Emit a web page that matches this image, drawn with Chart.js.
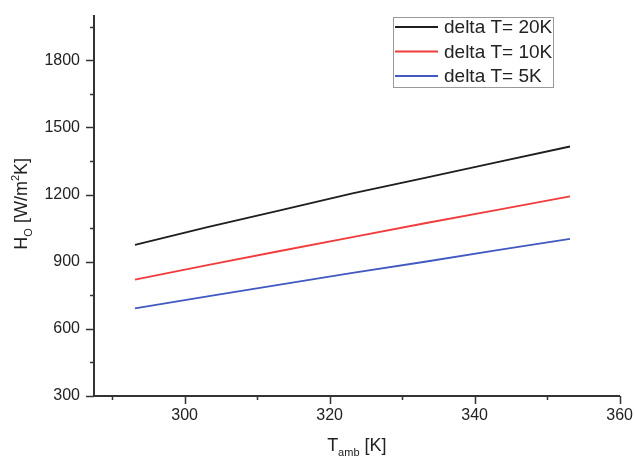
<!DOCTYPE html>
<html>
<head>
<meta charset="utf-8">
<script src="https://cdn.jsdelivr.net/npm/chart.js@4.4.1/dist/chart.umd.min.js"></script>
<style>
  html, body { margin: 0; padding: 0; background: #fff; }
</style>
</head>
<body>
<canvas id="chart" width="635" height="462"></canvas>
<script>
// values
const tempK = [293.15, 303.15, 313.15, 323.15, 333.15, 343.15, 353.15];
const hoDelta20 = [975, 1055, 1130, 1205, 1275, 1345, 1415];
const hoDelta10 = [820, 885, 948, 1010, 1072, 1132, 1192];
const hoDelta5 = [692, 745, 798, 850, 900, 952, 1002];
const seriesLabels = ["delta T= 20K", "delta T= 10K", "delta T= 5K"];

const xMajorTicks = [300, 320, 340, 360];
const xMinorTicks = [290, 310, 330, 350];
const yMajorTicks = [300, 600, 900, 1200, 1500, 1800];
const yMinorTicks = [450, 750, 1050, 1350, 1650, 1950];

const FONT = '"Liberation Sans", Arial, sans-serif';
const AXIS_COLOR = "#333";
const TEXT_COLOR = "#222";

function toPoints(ys) {
  return tempK.map((t, i) => ({ x: t, y: ys[i] }));
}

function setTicks(major, minor) {
  return (scale) => {
    scale.ticks = major.concat(minor).sort((a, b) => a - b).map((v) => ({ value: v }));
  };
}

// draws text pieces with sub/superscripts, centred on x=0 at baseline 0
function drawRich(ctx, parts) {
  let total = 0;
  parts.forEach((p) => {
    ctx.font = p.size + "px " + FONT;
    p.w = ctx.measureText(p.t).width;
    total += p.w;
  });
  let x = -total / 2;
  parts.forEach((p) => {
    ctx.font = p.size + "px " + FONT;
    ctx.fillText(p.t, x, p.dy);
    x += p.w;
  });
}

const extras = {
  id: "extras",
  afterDraw(chart) {
    const ctx = chart.ctx;
    const xs = chart.scales.x;
    const ys = chart.scales.y;
    const area = chart.chartArea;
    ctx.save();

    // tick marks (outside), long for major, short for minor
    ctx.strokeStyle = AXIS_COLOR;
    ctx.lineWidth = 1.5;
    ctx.beginPath();
    xMajorTicks.forEach((v) => {
      const px = Math.round(xs.getPixelForValue(v)) + 0.5;
      ctx.moveTo(px, area.bottom);
      ctx.lineTo(px, area.bottom + 8);
    });
    xMinorTicks.forEach((v) => {
      const px = Math.round(xs.getPixelForValue(v)) + 0.5;
      ctx.moveTo(px, area.bottom);
      ctx.lineTo(px, area.bottom + 4);
    });
    yMajorTicks.forEach((v) => {
      const py = Math.round(ys.getPixelForValue(v)) + 0.5;
      ctx.moveTo(area.left, py);
      ctx.lineTo(area.left - 8, py);
    });
    yMinorTicks.forEach((v) => {
      const py = Math.round(ys.getPixelForValue(v)) + 0.5;
      ctx.moveTo(area.left, py);
      ctx.lineTo(area.left - 4, py);
    });
    ctx.stroke();

    // axis titles
    ctx.fillStyle = TEXT_COLOR;
    ctx.textBaseline = "alphabetic";
    ctx.textAlign = "left";
    ctx.save();
    ctx.translate((area.left + area.right) / 2, 451);
    drawRich(ctx, [
      { t: "T", size: 18, dy: 0 },
      { t: "amb", size: 11, dy: 5 },
      { t: " [K]", size: 18, dy: 0 },
    ]);
    ctx.restore();

    ctx.save();
    ctx.translate(27, (area.top + area.bottom) / 2 - 2);
    ctx.rotate(-Math.PI / 2);
    drawRich(ctx, [
      { t: "H", size: 18, dy: 0 },
      { t: "O", size: 11, dy: 5 },
      { t: " [W/m", size: 18, dy: 0 },
      { t: "2", size: 11, dy: -8 },
      { t: "K]", size: 18, dy: 0 },
    ]);
    ctx.restore();

    // boxed legend
    ctx.strokeStyle = "#999";
    ctx.lineWidth = 1;
    ctx.strokeRect(393.5, 17.5, 160, 70);
    ctx.font = "19px " + FONT;
    ctx.textBaseline = "middle";
    chart.data.datasets.forEach((ds, i) => {
      const y = 27 + i * 24.5;
      ctx.strokeStyle = ds.borderColor;
      ctx.lineWidth = 2;
      ctx.beginPath();
      ctx.moveTo(395, y);
      ctx.lineTo(438, y);
      ctx.stroke();
      ctx.fillStyle = TEXT_COLOR;
      ctx.fillText(ds.label, 444, y + 1);
    });

    ctx.restore();
  },
};

new Chart(document.getElementById("chart"), {
  type: "line",
  data: {
    datasets: [
      { label: seriesLabels[0], data: toPoints(hoDelta20), borderColor: "#1e1e1e" },
      { label: seriesLabels[1], data: toPoints(hoDelta10), borderColor: "#f23c3c" },
      { label: seriesLabels[2], data: toPoints(hoDelta5), borderColor: "#4259c2" },
    ],
  },
  options: {
    responsive: false,
    animation: false,
    devicePixelRatio: 1,
    layout: { padding: { top: 7, right: 13, left: 0, bottom: 0 } },
    elements: {
      line: { borderWidth: 1.8, tension: 0 },
      point: { radius: 0 },
    },
    plugins: {
      legend: { display: false },
      tooltip: { enabled: false },
    },
    scales: {
      x: {
        type: "linear",
        min: 287.5,
        max: 360,
        afterBuildTicks: setTicks(xMajorTicks, xMinorTicks),
        afterFit: (scale) => { scale.height = 66; },
        grid: { drawOnChartArea: false, drawTicks: true, tickLength: 8, tickColor: "rgba(0,0,0,0)" },
        border: { display: true, color: AXIS_COLOR, width: 2 },
        ticks: {
          padding: 2,
          maxRotation: 0,
          color: TEXT_COLOR,
          font: { family: FONT, size: 16 },
          callback: (v) => (xMajorTicks.includes(v) ? String(v) : null),
        },
      },
      y: {
        type: "linear",
        min: 300,
        max: 2000,
        afterBuildTicks: setTicks(yMajorTicks, yMinorTicks),
        afterFit: (scale) => { scale.width = 94; },
        grid: { drawOnChartArea: false, drawTicks: true, tickLength: 8, tickColor: "rgba(0,0,0,0)" },
        border: { display: true, color: AXIS_COLOR, width: 2 },
        ticks: {
          padding: 6,
          color: TEXT_COLOR,
          font: { family: FONT, size: 16 },
          callback: (v) => (yMajorTicks.includes(v) ? String(v) : null),
        },
      },
    },
  },
  plugins: [extras],
});
</script>
</body>
</html>
